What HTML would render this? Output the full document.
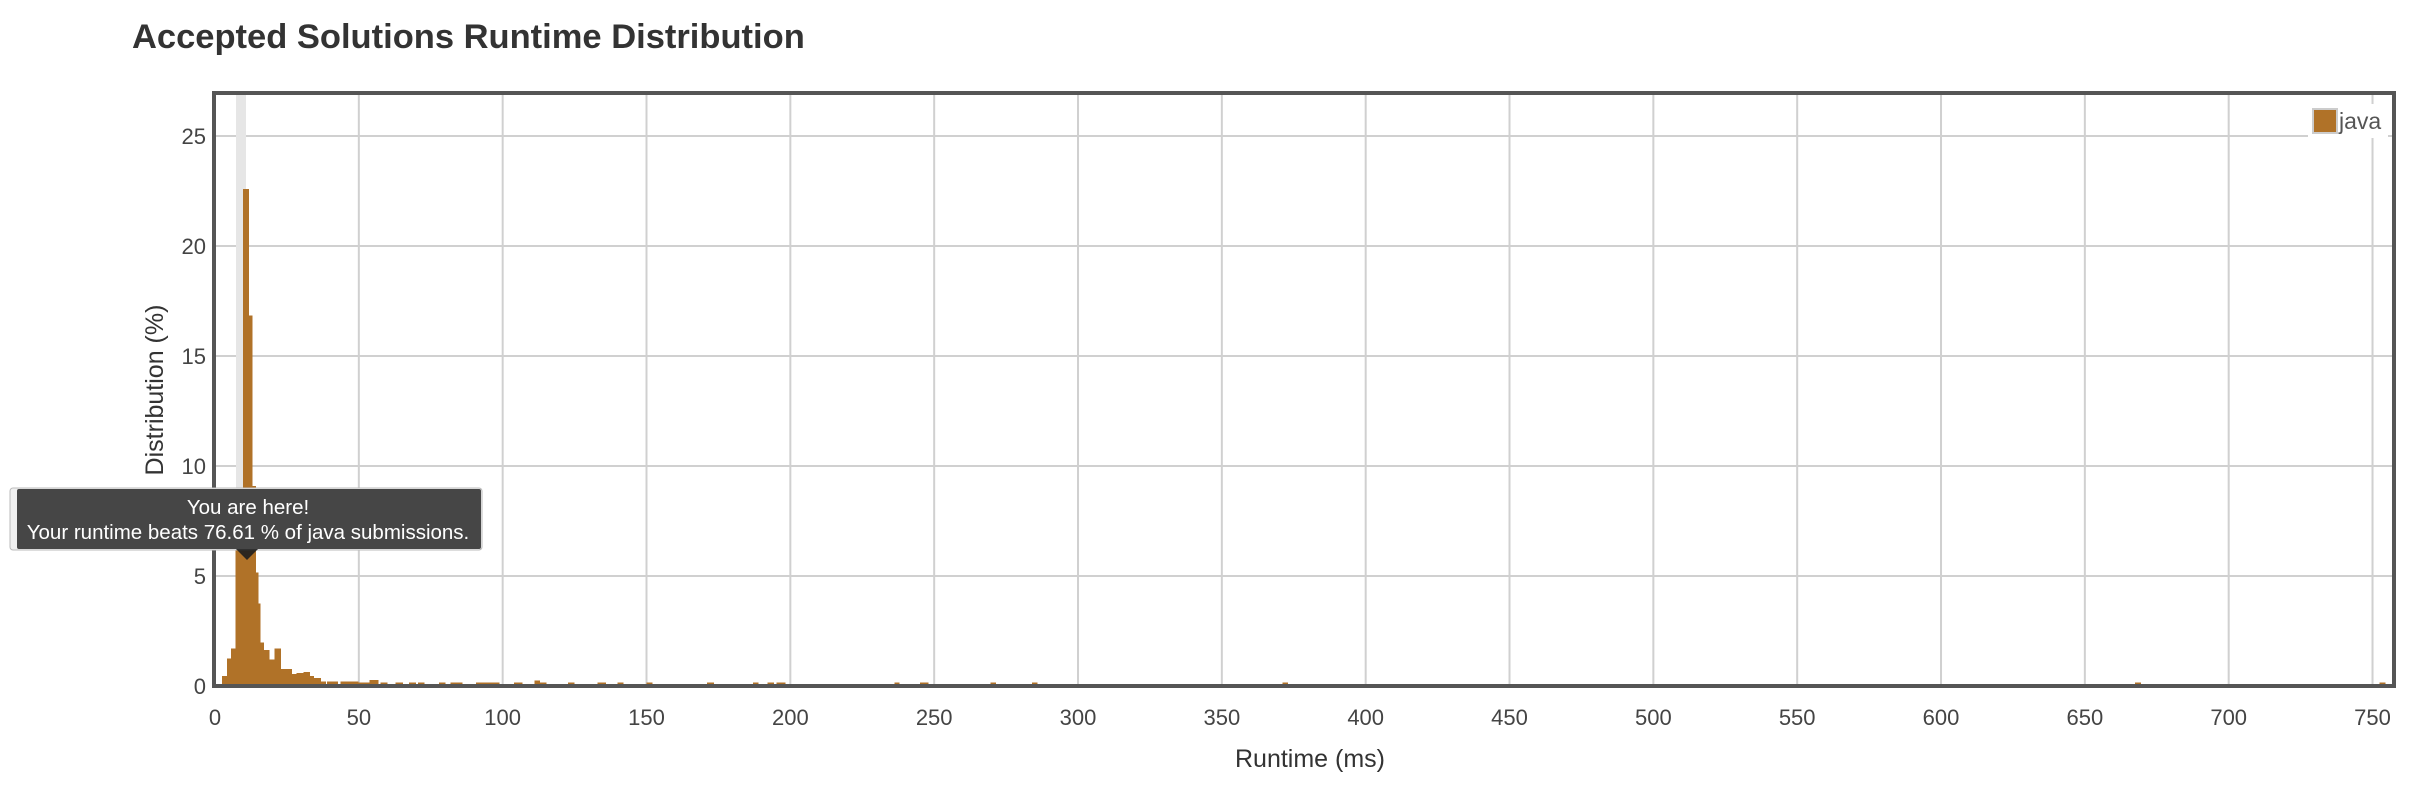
<!DOCTYPE html>
<html><head><meta charset="utf-8"><style>
html,body{margin:0;padding:0;background:#fff;}
body{width:2420px;height:798px;overflow:hidden;font-family:"Liberation Sans",sans-serif;}
</style></head><body>
<svg id="chart" width="2420" height="798" xmlns="http://www.w3.org/2000/svg" font-family="Liberation Sans, sans-serif">
<text x="132" y="48" font-size="34.5" font-weight="bold" fill="#333">Accepted Solutions Runtime Distribution</text>
<g id="grid"></g>
<rect x="236" y="93" width="10" height="592" fill="#e6e6e6"/>
<g id="bars" shape-rendering="crispEdges"></g>
<rect x="214" y="93" width="2180" height="593" fill="none" stroke="#555" stroke-width="4"/>
<g id="ticks"></g>
<text x="1310" y="767" font-size="25" fill="#333" text-anchor="middle">Runtime (ms)</text>
<text transform="translate(163,390) rotate(-90)" font-size="25" fill="#333" text-anchor="middle">Distribution (%)</text>
<g>
<rect x="2308" y="104" width="80" height="34" fill="#fff"/>
<rect x="2313" y="109" width="24" height="24" fill="#b07228" stroke="#ccc" stroke-width="2"/>
<text x="2339" y="129" font-size="23" fill="#555">java</text>
</g>
<g>
<rect x="10" y="488" width="472" height="62" rx="3" fill="#f0f0f0" stroke="#bbb" stroke-width="1"/>
<rect x="17" y="489" width="464" height="60" rx="2" fill="rgba(40,40,40,0.85)"/>
<polygon points="236,549 258,549 247,560" fill="rgba(30,30,30,0.9)"/>
<text x="248" y="514" font-size="20.5" fill="#fff" text-anchor="middle">You are here!</text>
<text x="248" y="539" font-size="20.5" fill="#fff" text-anchor="middle">Your runtime beats 76.61 % of java submissions.</text>
</g>
</svg>
<script>
const binStart=[2.5,4.1,5.6,7.2,9.7,11.9,13.0,14.2,15.1,15.9,17.0,18.9,20.6,22.9,26.7,28.4,30.7,33.0,34.5,36.8,38.9,43.6,46.6,49.8,53.7,57.6,62.8,67.4,70.6,77.9,81.8,84,90.8,93.5,96.5,104,111,113,122.7,132.9,139.9,150,171,187,192,195.2,236.2,245,246.5,269.5,284,371,667.5,752.5];
const binEnd=[4.1,5.6,7.2,9.7,11.9,13.0,14.2,15.1,15.9,17.0,18.9,20.6,22.9,26.7,28.4,30.7,33.0,34.5,36.8,38.6,42.8,46.6,49.8,53.7,56.9,60,65.4,69.8,72.9,80.2,84,86,93.5,96.5,98.9,106.9,113,115.3,125,136,142,152,173.4,189,194.4,198.3,238,246.5,248,271.5,286,373,669.5,754.5];
const percent=[0.45,1.24,1.7,8,22.6,16.85,9.1,5.15,3.74,1.97,1.64,1.2,1.7,0.77,0.55,0.6,0.64,0.45,0.36,0.2,0.2,0.2,0.2,0.17,0.27,0.15,0.15,0.15,0.15,0.15,0.15,0.15,0.15,0.15,0.15,0.15,0.25,0.15,0.15,0.15,0.15,0.15,0.15,0.15,0.15,0.15,0.15,0.15,0.15,0.15,0.15,0.15,0.15,0.15];
const xTicks=[0,50,100,150,200,250,300,350,400,450,500,550,600,650,700,750];
const yTicks=[0,5,10,15,20,25];
const NS='http://www.w3.org/2000/svg';
const X0=215,XS=2.8767,Y0=686,YS=22;
function xs(v){return X0+v*XS;}
function ys(v){return Y0-v*YS;}
function mk(tag,attrs,parent){const e=document.createElementNS(NS,tag);for(const k in attrs)e.setAttribute(k,attrs[k]);parent.appendChild(e);return e;}
const grid=document.getElementById('grid'),bars=document.getElementById('bars'),ticks=document.getElementById('ticks');
xTicks.forEach(t=>{
 const l=mk('line',{x1:xs(t),x2:xs(t),y1:93,y2:686,stroke:'#d0d0d0','stroke-width':2},grid);
 
 
 const tx=mk('text',{x:xs(t),y:725,'font-size':22,fill:'#444','text-anchor':'middle'},ticks);
 tx.textContent=t;
 
 
});
yTicks.forEach(t=>{
 const l=mk('line',{x1:214,x2:2394,y1:ys(t),y2:ys(t),stroke:'#d0d0d0','stroke-width':2},grid);
 
 
 const tx=mk('text',{x:206,y:ys(t)+8,'font-size':22,fill:'#444','text-anchor':'end'},ticks);
 tx.textContent=t;
 
 
});
percent.forEach((p,i)=>{
 const x1=xs(binStart[i]),x2=xs(binEnd[i]);
 const h=Math.max(p*YS,3);
 const r=mk('rect',{x:x1,y:Y0-h,width:Math.max(x2-x1,1.5),height:h,fill:'#b07228'},bars);
 
 
});
</script>
</body></html>
